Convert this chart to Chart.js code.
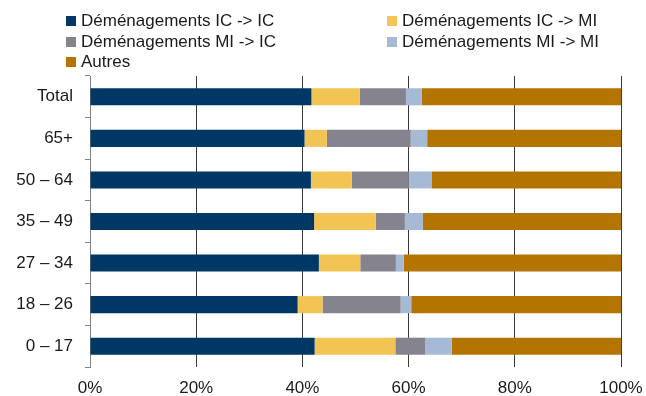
<!DOCTYPE html>
<html>
<head>
<meta charset="utf-8">
<script src="https://cdn.jsdelivr.net/npm/chart.js@4/dist/chart.umd.min.js"></script>
<style>
  html, body { margin: 0; padding: 0; background: #fff; }
  #wrap { position: relative; width: 646px; height: 396px; }
  #chart { position: absolute; left: 0; top: 0; }
  .leg { position: absolute; display: flex; align-items: center; height: 20px;
         font: 17px 'Liberation Sans', Arial, sans-serif; color: #1a1a1a; white-space: nowrap; }
  .leg i { display: inline-block; width: 10px; height: 10px; margin-right: 5px; }
</style>
</head>
<body>
<div id="wrap">
  <canvas id="chart" width="646" height="396"></canvas>
  <div id="legend"></div>
</div>
<script>
// ===== données =====
const categories = ['Total', '65+', '50 – 64', '35 – 49', '27 – 34', '18 – 26', '0 – 17'];

const icIc   = [41.7, 40.4, 41.6, 42.2, 43.1, 39.1, 42.3];
const icMi   = [ 9.1,  4.2,  7.7, 11.6,  7.8,  4.7, 15.2];
const miIc   = [ 8.7, 15.8, 10.7,  5.5,  6.7, 14.7,  5.6];
const miMi   = [ 3.0,  3.1,  4.3,  3.4,  1.5,  2.0,  5.0];
const autres = [37.5, 36.5, 35.7, 37.3, 40.9, 39.5, 31.9];

const xTicks = [0, 20, 40, 60, 80, 100];

const seriesNames  = ['Déménagements IC -> IC', 'Déménagements IC -> MI', 'Déménagements MI -> IC', 'Déménagements MI -> MI', 'Autres'];
const seriesColors = ['#003865', '#f1c454', '#85848e', '#a6bad5', '#b37400'];
const seriesData   = [icIc, icMi, miIc, miMi, autres];

// ===== légende (2 colonnes, comme l'original) =====
const legendPos = [[66, 11], [387, 11], [66, 32], [387, 32], [66, 52]];
const legendEl = document.getElementById('legend');
seriesNames.forEach((name, i) => {
    const d = document.createElement('div');
    d.className = 'leg';
    d.style.left = legendPos[i][0] + 'px';
    d.style.top = legendPos[i][1] + 'px';
    d.innerHTML = '<i style="background:' + seriesColors[i] + '"></i>';
    d.appendChild(document.createTextNode(name));
    legendEl.appendChild(d);
});

// ===== graphique =====
const FONT = "'Liberation Sans', Arial, sans-serif";

new Chart(document.getElementById('chart'), {
    type: 'bar',
    data: {
        labels: categories,
        datasets: seriesNames.map((name, i) => ({
            label: name,
            data: seriesData[i],
            backgroundColor: seriesColors[i],
            borderWidth: 0,
            barPercentage: 0.41,
            categoryPercentage: 1
        }))
    },
    options: {
        indexAxis: 'y',
        responsive: false,
        animation: false,
        layout: { padding: { top: 76, right: 25, bottom: 0, left: 0 } },
        plugins: {
            legend: { display: false },
            tooltip: { enabled: false }
        },
        scales: {
            x: {
                stacked: true,
                min: 0,
                max: 100,
                afterBuildTicks: (scale) => { scale.ticks = xTicks.map(v => ({ value: v })); },
                afterFit: (scale) => {
                    scale.height = 29;
                    // pas de marge auto pour le libellé "100%"
                    scale.paddingLeft = 0;
                    scale.paddingRight = 0;
                },
                grid: { color: '#3a3a3a', lineWidth: 1, drawTicks: false },
                border: { display: false },
                ticks: {
                    padding: 11,
                    color: '#1a1a1a',
                    font: { family: FONT, size: 17 },
                    callback: (v) => v + '%'
                }
            },
            y: {
                stacked: true,
                afterFit: (scale) => { scale.width = 90; },
                grid: { drawOnChartArea: false, tickLength: 5, color: '#808080' },
                border: { color: '#808080' },
                ticks: {
                    padding: 12,
                    color: '#1a1a1a',
                    font: { family: FONT, size: 17 }
                }
            }
        }
    }
});
</script>
</body>
</html>
